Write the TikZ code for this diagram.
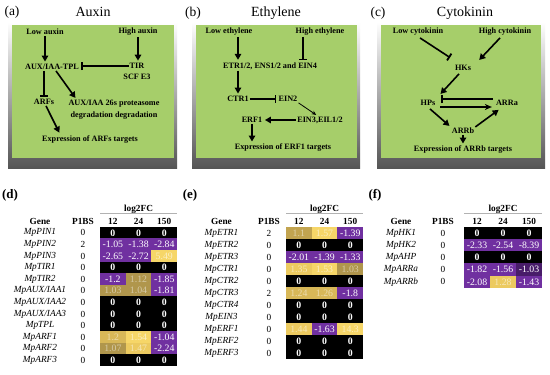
\documentclass[tikz,border=0pt]{standalone}
\usepackage{fontspec}
\setmainfont{Liberation Serif}
\usetikzlibrary{arrows.meta,calc}
\definecolor{panelgreen}{RGB}{166,206,106}
\definecolor{framegray}{RGB}{85,85,85}
\definecolor{cpur}{RGB}{112,48,160}
\definecolor{cpurd}{RGB}{72,28,105}
\definecolor{ya}{RGB}{246,214,104}
\definecolor{yb}{RGB}{236,202,96}
\definecolor{yc}{RGB}{216,184,88}
\definecolor{yd}{RGB}{194,164,80}
\definecolor{ye}{RGB}{176,150,76}
\newcommand\zz{\textbf{0}}
\newcommand\hmtable[8]{%
  \foreach \gn/\pv/\va/\sa/\vb/\sb/\vc/\sc [count=\rr] in {#8}{%
    \pgfmathsetmacro\yy{#5+#6*(\rr-0.5)}
    \node[gene] (#7g\rr) at (#3,\yy) {\gn};
    \node[pval] (#7p\rr) at (#4,\yy) {\pv};
    \node[hcell,\sa,minimum width={(#2+0.4)*1pt},minimum height={(#6+0.4)*1pt}] (#7a\rr) at ({#1+#2*0.5},\yy) {\va};
    \node[hcell,\sb,minimum width={(#2+0.4)*1pt},minimum height={(#6+0.4)*1pt}] (#7b\rr) at ({#1+#2*1.5},\yy) {\vb};
    \node[hcell,\sc,minimum width={(#2+0.4)*1pt},minimum height={(#6+0.4)*1pt}] (#7c\rr) at ({#1+#2*2.5},\yy) {\vc};
  }}
\begin{document}
\begin{tikzpicture}[x=1pt,y=-1pt,
  ptxt/.style={font=\fontsize{8.2}{9.6}\selectfont\bfseries, inner sep=1pt, align=center},
  ttl/.style={font=\fontsize{14}{16}\selectfont, inner sep=0pt},
  lbl/.style={font=\fontsize{13.5}{15}\selectfont, inner sep=0pt},
  lblb/.style={font=\fontsize{13}{15}\selectfont\bfseries, inner sep=0pt},
  act/.style={line width=1.6pt, shorten >=1.5pt, -{Triangle[length=6pt,width=6.5pt]}},
  actthin/.style={line width=1.1pt, shorten >=1pt, -{Stealth[length=7pt,width=6pt]}},
  thinact/.style={line width=0.8pt, shorten >=1pt, -{Stealth[length=4.5pt,width=4pt]}},
  inh/.style={line width=1.6pt, shorten >=1pt, -{Bar[width=8pt,line width=1.8pt]}},
  gene/.style={font=\fontsize{9.3}{11}\selectfont\itshape, inner sep=0pt},
  pval/.style={font=\fontsize{9.3}{11}\selectfont, inner sep=0pt},
  hdr/.style={font=\fontsize{9.3}{11}\selectfont\bfseries, inner sep=0pt},
  hcell/.style={font=\fontsize{9.8}{11}\selectfont, inner sep=0pt, draw=none},
  hK/.style={fill=black, text=white},
  hP/.style={fill=cpur, text=white},
  hPD/.style={fill=cpurd, text=white},
  hYA/.style={fill=ya, text=ya!40!white},
  hYB/.style={fill=yb, text=yb!45!white},
  hYC/.style={fill=yc, text=yc!50!white},
  hYD/.style={fill=yd, text=yd!50!white},
  hYE/.style={fill=ye, text=ye!50!white},
  hline/.style={draw=gray!60, line width=0.5pt}
]
\useasboundingbox (0,0) rectangle (550,375);
\fill[white] (0,0) rectangle (550,375);

% ---------- panel frames ----------
\shade[top color=white, bottom color=framegray] (8,22) rectangle (177,168);
\fill[panelgreen] (11.5,25) rectangle (174,158);
\shade[top color=white, bottom color=framegray] (192,22) rectangle (360,168);
\fill[panelgreen] (196,25) rectangle (357,158);
\shade[top color=white, bottom color=framegray] (377,22) rectangle (545,168);
\fill[panelgreen] (381,25) rectangle (541,158);

% ---------- labels and titles ----------
\node[lbl] (la) at (12,12) {(a)};
\node[ttl] (ta) at (93,12) {Auxin};
\node[lbl] (lb) at (193,13) {(b)};
\node[ttl] (tb) at (276,13) {Ethylene};
\node[lbl] (lc) at (378,13) {(c)};
\node[ttl] (tc) at (465,13) {Cytokinin};

% ---------- panel (a) ----------
\node[ptxt] (lowa) at (45,32) {Low auxin};
\node[ptxt] (higha) at (138,32) {High auxin};
\node[ptxt] (auxtpl) at (52,67) {AUX/IAA-TPL};
\node[ptxt] (tir) at (137,66) {TIR};
\node[ptxt] (scf) at (137,77) {SCF E3};
\node[ptxt] (arfs) at (44,102) {ARFs};
\node[ptxt, font=\fontsize{8.2}{12}\selectfont\bfseries] (deg) at (114,110) {AUX/IAA 26s proteasome\\degradation degradation};
\node[ptxt] (expa) at (90,140) {Expression of ARFs targets};
\draw[act] (lowa.south -| 45,0) -- (auxtpl.north -| 45,0);
\draw[act] (higha.south) -- (higha.south |- tir.north);
\draw[inh] (tir.west) -- (tir.west -| auxtpl.east);
\draw[inh] (arfs.north |- auxtpl.south) -- (arfs.north);
\draw[act] ($(auxtpl.south)+(4,0)$) -- ($(deg.north west)+(9,0)$);
\draw[act] ($(arfs.south)+(2,0)$) -- ($(expa.north)+(-30,-1)$);

% ---------- panel (b) ----------
\node[ptxt] (lowe) at (229,32) {Low ethylene};
\node[ptxt] (highe) at (320,32) {High ethylene};
\node[ptxt] (etr) at (270,66) {ETR1/2, ENS1/2 and EIN4};
\node[ptxt] (ctr) at (238,99) {CTR1};
\node[ptxt] (ein2) at (288,99) {EIN2};
\node[ptxt] (ein3) at (320,120) {EIN3,EIL1/2};
\node[ptxt] (erf1) at (252,120) {ERF1};
\node[ptxt] (expe) at (283,148) {Expression of ERF1 targets};
\coordinate (he) at ($(highe.south)+(-17,0)$);
\draw[act] (ctr.north |- lowe.south) -- (ctr.north |- etr.north);
\draw[inh] (he) -- (he |- etr.north);
\draw[act] (ctr.north |- etr.south) -- (ctr.north);
\draw[inh] (ctr.east) -- (ein2.west);
\draw[thinact] (ein2.south east) -- ($(ein3.north)+(-3,0)$);
\draw[act] (ein3.west) -- (erf1.east);
\draw[act] (erf1.south) -- (erf1.south |- expe.north);

% ---------- panel (c) ----------
\node[ptxt] (lowc) at (418,32) {Low cytokinin};
\node[ptxt] (highc) at (505,32) {High cytokinin};
\node[ptxt] (hks) at (463,68) {HKs};
\node[ptxt] (hps) at (428,103) {HPs};
\node[ptxt] (arra) at (507,103) {ARRa};
\node[ptxt] (arrb) at (463,131) {ARRb};
\node[ptxt] (expc) at (463,150) {Expression of ARRb targets};
\draw[inh] ($(lowc.south)+(2,1)$) -- ($(hks.north west)+(-3,-6)$);
\draw[act] ($(highc.south)+(-5,1)$) -- ($(hks.north east)+(6,-3)$);
\draw[act] ($(hks.south)+(-4,2)$) -- ($(hps.north east)+(3,-4)$);
\draw[inh] ($(arra.west)+(-2,-4)$) -- ($(hps.east)+(4,-4)$);
\draw[actthin] ($(hps.east)+(4,4)$) -- ($(arra.west)+(-2,4)$);
\draw[act] ($(hps.south)+(2,2)$) -- (arrb.north west);
\draw[act] (arrb.north east) -- ($(arra.south west)+(5,2)$);
\draw[act] (arrb.south) -- (expc.north);

% ---------- table (d) ----------
\node[lblb] (ld) at (10,195) {(d)};
\node[hdr] (dlog) at (138.5,209) {log2FC};
\coordinate (dl1) at (100,213.5);
\coordinate (dl2) at (177,213.5);
\draw[hline] (dl1) -- (dl2);
\node[hdr] (dh1) at (40,221) {Gene};
\node[hdr] (dh2) at (83,221) {P1BS};
\node[hdr] (dh3) at (112.8,221) {12};
\node[hdr] (dh4) at (138.5,221) {24};
\node[hdr] (dh5) at (164.2,221) {150};
\hmtable{100}{25.7}{40}{83}{227}{11.6}{d}{%
 MpPIN1/0/\zz/hK/\zz/hK/\zz/hK,
 MpPIN2/2/-1.05/hP/-1.38/hP/-2.84/hP,
 MpPIN3/0/-2.65/hP/-2.72/hP/5.49/hYA,
 MpTIR1/0/\zz/hK/\zz/hK/\zz/hK,
 MpTIR2/0/-1.2/hP/1.12/hYE/-1.85/hP,
 MpAUX\slash IAA1/0/1.03/hYE/1.04/hYE/-1.81/hP,
 MpAUX\slash IAA2/0/\zz/hK/\zz/hK/\zz/hK,
 MpAUX\slash IAA3/0/\zz/hK/\zz/hK/\zz/hK,
 MpTPL/0/\zz/hK/\zz/hK/\zz/hK,
 MpARF1/0/1.2/hYC/1.54/hYA/-1.04/hP,
 MpARF2/0/1.07/hYE/1.47/hYB/-2.24/hP,
 MpARF3/0/\zz/hK/\zz/hK/\zz/hK}

% ---------- table (e) ----------
\node[lblb] (le) at (190,195) {(e)};
\node[hdr] (elog) at (324.5,209) {log2FC};
\coordinate (el1) at (286,213.5);
\coordinate (el2) at (363,213.5);
\draw[hline] (el1) -- (el2);
\node[hdr] (eh1) at (221.5,221) {Gene};
\node[hdr] (eh2) at (269,221) {P1BS};
\node[hdr] (eh3) at (298.8,221) {12};
\node[hdr] (eh4) at (324.5,221) {24};
\node[hdr] (eh5) at (350.2,221) {150};
\hmtable{286}{25.7}{221.5}{269}{227}{12}{e}{%
 MpETR1/2/1.1/hYD/1.57/hYA/-1.39/hP,
 MpETR2/0/\zz/hK/\zz/hK/\zz/hK,
 MpETR3/0/-2.01/hP/-1.39/hP/-1.33/hP,
 MpCTR1/0/1.35/hYB/1.53/hYA/1.03/hYE,
 MpCTR2/0/\zz/hK/\zz/hK/\zz/hK,
 MpCTR3/2/1.24/hYC/1.26/hYC/-1.8/hP,
 MpCTR4/0/\zz/hK/\zz/hK/\zz/hK,
 MpEIN3/0/\zz/hK/\zz/hK/\zz/hK,
 MpERF1/0/1.44/hYB/-1.63/hP/14.3/hYA,
 MpERF2/0/\zz/hK/\zz/hK/\zz/hK,
 MpERF3/0/\zz/hK/\zz/hK/\zz/hK}

% ---------- table (f) ----------
\node[lblb] (lf) at (375,195) {(f)};
\node[hdr] (flog) at (503,209) {log2FC};
\coordinate (fl1) at (464,213.5);
\coordinate (fl2) at (542,213.5);
\draw[hline] (fl1) -- (fl2);
\node[hdr] (fh1) at (401,221) {Gene};
\node[hdr] (fh2) at (443,221) {P1BS};
\node[hdr] (fh3) at (477,221) {12};
\node[hdr] (fh4) at (503,221) {24};
\node[hdr] (fh5) at (529,221) {150};
\hmtable{464}{26}{401}{443}{227}{12.2}{f}{%
 MpHK1/0/\zz/hK/\zz/hK/\zz/hK,
 MpHK2/0/-2.33/hP/-2.54/hP/-8.39/hP,
 MpAHP/0/\zz/hK/\zz/hK/\zz/hK,
 MpARRa/0/-1.82/hP/-1.56/hP/-1.03/hPD,
 MpARRb/0/-2.08/hP/1.28/hYB/-1.43/hP}
\end{tikzpicture}
\end{document}
